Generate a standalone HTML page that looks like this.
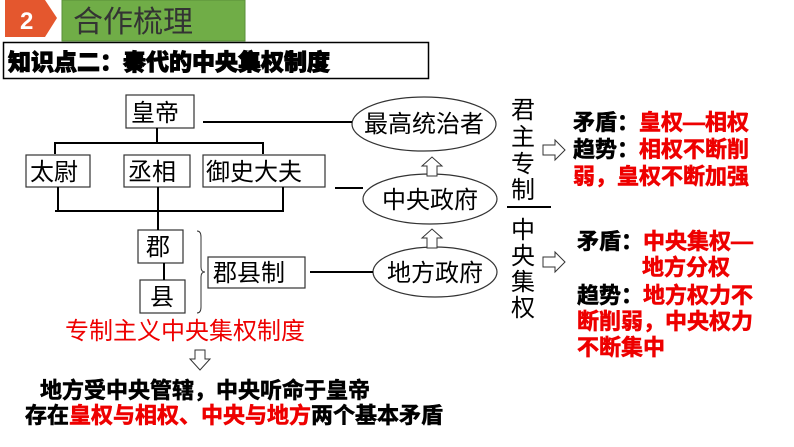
<!DOCTYPE html>
<html><head><meta charset="utf-8"><style>
html,body{margin:0;padding:0;background:#fff;width:794px;height:447px;overflow:hidden}
svg{display:block}
text{font-family:"Liberation Sans","Noto Sans CJK SC",sans-serif}
.n{font-size:24px;fill:#000}
.b{font-size:22px;font-weight:bold}
</style></head><body>
<svg width="794" height="447" viewBox="0 0 794 447">
<polygon points="5,0 45,0 57,18 45,37 5,37" fill="#e4572e"/>
<text x="20" y="29" font-size="24" font-weight="bold" fill="#fff">2</text>
<rect x="62" y="0" width="183" height="41" fill="#70ad47" stroke="#5a8f3a"/>
<text x="73" y="32" font-size="30" fill="#333">合作梳理</text>
<rect x="3.5" y="42.5" width="425" height="36" fill="#fff" stroke="#000" stroke-width="1.5"/>
<text x="8" y="70" font-size="23" font-weight="900" fill="#000" stroke="#000" stroke-width="0.9">知识点二：秦代的中央集权制度</text>

<g fill="#fff" stroke="#333" stroke-width="1.2">
<rect x="126" y="95" width="68" height="33"/>
<rect x="26" y="155" width="64" height="32"/>
<rect x="124" y="155" width="66" height="32"/>
<rect x="203" y="155" width="122" height="32"/>
<rect x="138" y="230" width="45" height="33"/>
<rect x="140" y="280" width="45" height="33"/>
<rect x="208" y="257" width="97" height="31"/>
<ellipse cx="424" cy="124" rx="72" ry="27"/>
<ellipse cx="430" cy="199" rx="67" ry="25"/>
<ellipse cx="435" cy="272" rx="62" ry="25"/>
</g>
<g stroke="#000" stroke-width="2" fill="none">
<line x1="203" y1="122" x2="352" y2="122"/>
<line x1="157" y1="128" x2="157" y2="143"/>
<polyline points="55,154 55,143 263,143 263,154"/>
<polyline points="58,187 58,211 283,211 283,187"/>
<line x1="55" y1="211" x2="283" y2="211"/>
<line x1="158" y1="187" x2="158" y2="230"/>
<line x1="164" y1="263" x2="164" y2="280"/>
<line x1="335" y1="188" x2="363" y2="188"/>
<line x1="310" y1="272" x2="373" y2="272"/>
<line x1="507" y1="207" x2="551" y2="207"/>
</g>
<path d="M197,231 q4,0 4,6 v30 q0,5 4,5 q-4,0 -4,5 v30 q0,6 -4,6" fill="none" stroke="#333" stroke-width="1"/>
<g fill="#fff" stroke="#333" stroke-width="1">
<polygon points="427,176 427,166 422,166 432,157 442,166 437,166 437,176"/>
<polygon points="427,248 427,238 422,238 432,229 442,238 437,238 437,248"/>
<polygon points="543,145 555,145 555,140 565,150 555,160 555,155 543,155"/>
<polygon points="543,257 555,257 555,252 565,262 555,272 555,267 543,267"/>
<polygon points="195,350 205,350 205,359 210,359 200,370 190,359 195,359"/>
</g>
<g class="n">
<text x="131" y="121">皇帝</text>
<text x="30" y="180">太尉</text>
<text x="128" y="180">丞相</text>
<text x="206" y="180">御史大夫</text>
<text x="146" y="255">郡</text>
<text x="150" y="305">县</text>
<text x="213" y="281">郡县制</text>
<text x="364" y="132">最高统治者</text>
<text x="382" y="208">中央政府</text>
<text x="387" y="281">地方政府</text>
<text x="511" y="118">君</text>
<text x="511" y="145">主</text>
<text x="511" y="172">专</text>
<text x="511" y="198">制</text>
<text x="511" y="238">中</text>
<text x="511" y="264">央</text>
<text x="511" y="290">集</text>
<text x="511" y="316">权</text>
</g>
<text x="65" y="339" font-size="24" fill="#e00">专制主义中央集权制度</text>
<g class="b" stroke-width="0.6">
<text x="573" y="130"><tspan fill="#000" stroke="#000">矛盾：</tspan><tspan fill="#e00" stroke="#e00">皇权—相权</tspan></text>
<text x="573" y="157"><tspan fill="#000" stroke="#000">趋势：</tspan><tspan fill="#e00" stroke="#e00">相权不断削</tspan></text>
<text x="573" y="184" fill="#e00" stroke="#e00">弱，皇权不断加强</text>
<text x="577" y="249"><tspan fill="#000" stroke="#000">矛盾：</tspan><tspan fill="#e00" stroke="#e00">中央集权—</tspan></text>
<text x="642" y="275" fill="#e00" stroke="#e00">地方分权</text>
<text x="577" y="303"><tspan fill="#000" stroke="#000">趋势：</tspan><tspan fill="#e00" stroke="#e00">地方权力不</tspan></text>
<text x="577" y="329" fill="#e00" stroke="#e00">断削弱，中央权力</text>
<text x="577" y="355" fill="#e00" stroke="#e00">不断集中</text>
<text x="40" y="398" fill="#000" stroke="#000">地方受中央管辖，中央听命于皇帝</text>
<text x="25" y="423"><tspan fill="#000" stroke="#000">存在</tspan><tspan fill="#e00" stroke="#e00">皇权与相权、中央与地方</tspan><tspan fill="#000" stroke="#000">两个基本矛盾</tspan></text>
</g>
</svg>
</body></html>
